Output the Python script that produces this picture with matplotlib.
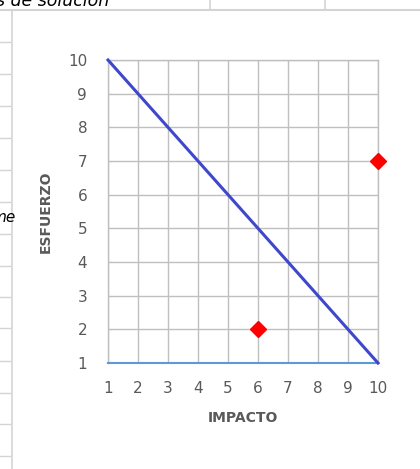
import numpy as np
import matplotlib.pyplot as plt
from matplotlib.lines import Line2D

# datos
recta_x = [1, 10]
recta_y = [10, 1]
puntos_impacto = [6, 10]
puntos_esfuerzo = [2, 7]
ticks = list(range(1, 11))

gris = '#595959'

fig = plt.figure(figsize=(4.2, 4.69), dpi=100)
fig.patch.set_facecolor('white')

# restos de la hoja de calculo alrededor del grafico
W, H = 420, 469
def px(x, y):
    return x / W, 1 - y / H

for yy in [42, 74, 106, 138, 170, 202, 234, 266, 297, 328, 361, 393, 424, 456]:
    fig.add_artist(Line2D([0, 10 / W], [1 - yy / H] * 2, color='#d4d4d4', lw=1))
fig.add_artist(Line2D([12 / W] * 2, [0, 1 - 10 / H], color='#d4d4d4', lw=1.2))
fig.add_artist(Line2D([0, 1], [1 - 10 / H] * 2, color='#d4d4d4', lw=1.5))
for xx in [210, 325]:
    fig.add_artist(Line2D([xx / W] * 2, [1 - 10 / H, 1], color='#d4d4d4', lw=1.2))
fig.text(*px(-4, 1), 's de solución', fontsize=12.5, style='italic', color='black',
         va='center', ha='left')
fig.text(*px(-9, 218), 'me', fontsize=11, style='italic', color='black',
         va='center', ha='left')

ax = fig.add_axes([108 / W, 1 - 363 / H, 270 / W, 303 / H])

ax.plot(recta_x, recta_y, color='#3f48cc', lw=2.2, zorder=3, clip_on=False)
ax.plot(puntos_impacto, puntos_esfuerzo, 'D', color='#ff0000', markersize=8,
        zorder=4, clip_on=False)

ax.set_xlim(1, 10)
ax.set_ylim(1, 10)
ax.set_xticks(ticks)
ax.set_yticks(ticks)
ax.grid(True, color='#bfbfbf', lw=1)
ax.set_axisbelow(True)
for s in ['top', 'right', 'left']:
    ax.spines[s].set_color('#bfbfbf')
    ax.spines[s].set_linewidth(1)
ax.spines['bottom'].set_color('#5b9bd5')
ax.spines['bottom'].set_linewidth(1.5)
ax.tick_params(length=0, labelsize=11, labelcolor=gris)
ax.tick_params(axis='x', pad=13)
ax.tick_params(axis='y', pad=15)

ax.set_xlabel('IMPACTO', fontsize=10, fontweight='bold', color=gris, labelpad=11)
ax.set_ylabel('ESFUERZO', fontsize=10, fontweight='bold', color=gris, labelpad=11)

plt.savefig('out.png', dpi=100)
